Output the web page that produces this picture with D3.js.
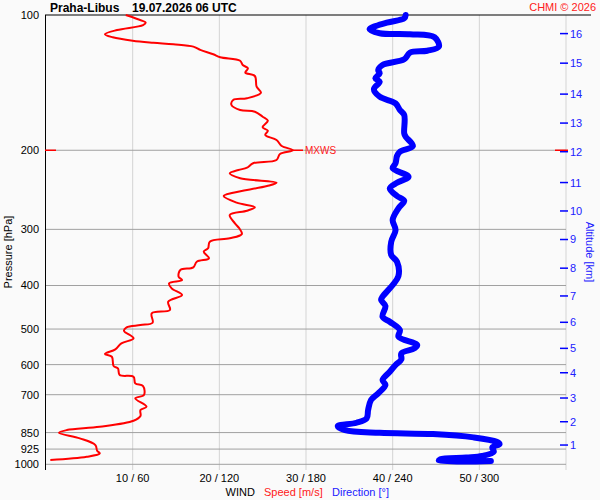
<!DOCTYPE html>
<html>
<head>
<meta charset="utf-8">
<script src="https://cdn.jsdelivr.net/npm/d3@7"></script>
<style>
    body { margin: 0; background: #fafafa; }
    svg { display: block; font-family: "Liberation Sans", Arial, sans-serif; }
</style>
</head>
<body>
<div id="chart"></div>
<script>
// Wind speed profile [hPa] / [m/s]
const speedPres = [100, 101.7, 104, 105.3, 108, 110.4, 112.1, 114.1, 115.3, 116.2, 117.6, 119.6, 122.3, 124.2,
    126.4, 129.2, 131.4, 134.4, 136.7, 144.4, 148.9, 153.2, 154.6, 158.6, 162.7, 164.2, 168.4, 171.9, 177.8,
    180.9, 184.9, 189.7, 195.7, 200, 203.8, 210.2, 213.8, 218.7, 221.3, 225.1, 230.9, 236.2, 240.3, 248.6,
    252.8, 261.6, 267.9, 272.6, 278.7, 290.8, 298.4, 307.2, 314.1, 319.6, 330.6, 336.4, 348, 354.1, 364.4,
    369.5, 382.4, 388.9, 395.5, 405.8, 420, 434.6, 453.5, 461.3, 484.1, 489.8, 495.6, 504.5, 524.4, 538,
    554.8, 568.3, 576.3, 604.3, 611.5, 632.8, 638.4, 660.4, 669.6, 701.2, 713.1, 744.5, 757.2, 780.8, 799.9,
    825, 839.1, 850.8, 875.6, 906.2, 933.1, 945.6, 962.2, 978.2];
const speedVals = [9.2, 10.3, 11.5, 11.2, 8.2, 6.8, 7.7, 10.0, 12.4, 14.7, 17.0, 17.8, 19.3, 20.1,
    22.4, 22.7, 23.3, 23.0, 24.1, 24.3, 24.8, 23.2, 21.6, 21.4, 22.4, 24.1, 25.0, 25.6, 25.0,
    25.6, 25.3, 26.6, 27.2, 28.5, 27.0, 26.6, 23.9, 23.2, 22.2, 21.2, 22.4, 26.6, 25.5, 21.6,
    20.5, 22.0, 24.1, 23.2, 21.2, 21.8, 22.3, 22.6, 21.2, 18.9, 18.7, 18.2, 18.8, 17.4, 17.0,
    15.5, 15.3, 15.7, 14.2, 14.5, 15.7, 14.1, 14.3, 12.2, 12.3, 10.9, 9.3, 9.0, 10.1, 8.7,
    8.0, 6.8, 7.6, 7.8, 8.3, 8.5, 10.1, 10.3, 11.2, 11.3, 10.3, 11.6, 10.9, 10.9, 10.1,
    6.2, 2.4, 1.5, 3.9, 5.7, 5.9, 6.2, 4.7, 0.5];

// Wind direction profile [hPa] / [deg]
const dirPres = [100, 101.7, 104, 107.6, 109.8, 110.4, 112.1, 117.6, 120.1, 121.3, 125.5, 129.2, 132.6, 134.8,
    138.3, 140.7, 146.3, 152, 157.3, 162.7, 167, 183.4, 186.6, 195.7, 201.5, 206, 213.8, 219.3, 229, 236.2,
    243.2, 252.8, 259, 269.3, 285.9, 301, 319.6, 342.1, 354.1, 381, 399, 423.6, 430.8, 444.3, 469.5, 481.6,
    502.7, 520, 542.7, 552, 566.3, 584.2, 601.2, 622.2, 649.3, 666.1, 695, 719.3, 757.2, 790.1, 808.2, 822,
    839.1, 850.8, 856.5, 871.1, 890.9, 901.6, 917, 937.9, 958.3, 966.2, 974.7, 981.7, 983.2];
const dirVals = [249, 248, 236, 224, 231, 252, 269, 272, 264, 252, 248, 233, 230, 231,
    228, 231, 227, 231, 242, 245, 248, 248, 249, 254, 245, 243, 242, 240, 251, 243,
    238, 243, 248, 244, 240, 242, 239, 239, 243, 244, 240, 233, 232, 235, 233, 238,
    245, 244, 257, 255, 246, 246, 242, 238, 233, 235, 230, 225, 223, 222, 215, 202,
    207, 231, 268, 296, 312, 314, 309, 310, 302, 291, 273, 272, 308];

const pressureTicks = [100, 200, 300, 400, 500, 600, 700, 850, 925, 1000];
const speedTicks = [10, 20, 30, 40, 50, 60];
const altKm = [1, 2, 3, 4, 5, 6, 7, 8, 9, 10, 11, 12, 13, 14, 15, 16];
const altPres = [906, 804, 712, 625.5, 552, 483, 422, 366, 316, 273, 236, 201.5, 174, 150, 128, 110];
const maxWindPres = 200;
const maxWindSpeed = 28.5;

const width = 600, height = 500;
const RED = "#ff0000", BLUE = "#0000ff", TXT_RED = "#ff2020", TXT_BLUE = "#2020ff";

const svg = d3.select("#chart").append("svg")
    .attr("width", width)
    .attr("height", height);

svg.append("rect").attr("width", width).attr("height", height).attr("fill", "#fafafa");

const y = d3.scaleLog().domain([100, 1000]).range([15, 464.3]);
const xSpeed = d3.scaleLinear().domain([0, 60]).range([46, 566]);
const xDir = d3.scaleLinear().domain([0, 360]).range([46, 566]);

// vertical grid
svg.selectAll(".vgrid").data(speedTicks).enter().append("line")
    .attr("x1", d => xSpeed(d)).attr("x2", d => xSpeed(d))
    .attr("y1", 15).attr("y2", 470)
    .attr("stroke", "#d4d4d4").attr("stroke-width", 1);

// horizontal grid
svg.selectAll(".hgrid").data(pressureTicks.slice(1)).enter().append("line")
    .attr("x1", 45).attr("x2", 566)
    .attr("y1", d => y(d)).attr("y2", d => y(d))
    .attr("stroke", "#a0a0a0").attr("stroke-width", 1);

// top line and left axis
svg.append("line").attr("x1", 45).attr("x2", 591).attr("y1", y(100)).attr("y2", y(100))
    .attr("stroke", "#000").attr("stroke-width", 1);
svg.append("line").attr("x1", 45.5).attr("x2", 45.5).attr("y1", 15).attr("y2", 470)
    .attr("stroke", "#000").attr("stroke-width", 1);

// pressure labels
svg.selectAll(".plab").data(pressureTicks).enter().append("text")
    .attr("x", 39).attr("y", d => y(d)).attr("dy", "0.36em")
    .attr("text-anchor", "end").attr("font-size", 11).attr("fill", "#000")
    .text(d => d);

svg.append("text")
    .attr("transform", "translate(12,252) rotate(-90)")
    .attr("text-anchor", "middle").attr("font-size", 11).attr("fill", "#000")
    .text("Pressure [hPa]");

// wind axis labels
svg.selectAll(".xlab").data(speedTicks.slice(0, 5)).enter().append("text")
    .attr("x", d => xSpeed(d)).attr("y", 482)
    .attr("text-anchor", "middle").attr("font-size", 11).attr("fill", "#000")
    .text(d => d + " / " + d * 6);

const legend = svg.append("text").attr("x", 225.5).attr("y", 495.5).attr("font-size", 11);
legend.append("tspan").attr("fill", "#000").text("WIND");
legend.append("tspan").attr("x", 264).attr("fill", TXT_RED).text("Speed [m/s]");
legend.append("tspan").attr("x", 332).attr("fill", TXT_BLUE).text("Direction [°]");

// altitude axis
svg.selectAll(".atick").data(altPres).enter().append("line")
    .attr("x1", 560).attr("x2", 568)
    .attr("y1", d => y(d)).attr("y2", d => y(d))
    .attr("stroke", BLUE).attr("stroke-width", 1.5);
svg.selectAll(".alab").data(altKm).enter().append("text")
    .attr("x", 570).attr("y", (d, i) => y(altPres[i])).attr("dy", "0.36em")
    .attr("font-size", 11).attr("fill", TXT_BLUE)
    .text(d => d);
svg.append("text")
    .attr("transform", "translate(586,252) rotate(90)")
    .attr("text-anchor", "middle").attr("font-size", 11).attr("fill", TXT_BLUE)
    .text("Altitude [km]");

// direction line
const dirData = dirPres.map((p, i) => [p, dirVals[i]]);
svg.append("path")
    .attr("d", d3.line().x(d => xDir(d[1])).y(d => y(d[0])).curve(d3.curveCatmullRom.alpha(0.5))(dirData))
    .attr("fill", "none").attr("stroke", BLUE).attr("stroke-width", 6)
    .attr("stroke-linejoin", "round").attr("stroke-linecap", "round");

// speed line
const speedData = speedPres.map((p, i) => [p, speedVals[i]]);
svg.append("path")
    .attr("d", d3.line().x(d => xSpeed(d[1])).y(d => y(d[0])).curve(d3.curveCatmullRom.alpha(0.5))(speedData))
    .attr("fill", "none").attr("stroke", RED).attr("stroke-width", 2)
    .attr("stroke-linejoin", "round");

// max wind marks
const yMax = y(maxWindPres);
svg.append("line").attr("x1", 45).attr("x2", 56).attr("y1", yMax).attr("y2", yMax)
    .attr("stroke", RED).attr("stroke-width", 1.5);
svg.append("line").attr("x1", 555).attr("x2", 568).attr("y1", yMax).attr("y2", yMax)
    .attr("stroke", RED).attr("stroke-width", 1.5);
svg.append("line").attr("x1", xSpeed(maxWindSpeed)).attr("x2", xSpeed(maxWindSpeed) + 10)
    .attr("y1", yMax).attr("y2", yMax)
    .attr("stroke", RED).attr("stroke-width", 1.5);
svg.append("text")
    .attr("x", xSpeed(maxWindSpeed) + 12).attr("y", yMax).attr("dy", "0.36em")
    .attr("font-size", 10).attr("fill", TXT_RED)
    .text("MXWS");

// titles
svg.append("text").attr("x", 50).attr("y", 11.5)
    .attr("font-size", 12).attr("font-weight", "bold").attr("fill", "#000")
    .text("Praha-Libus");
svg.append("text").attr("x", 132).attr("y", 11.5)
    .attr("font-size", 12).attr("font-weight", "bold").attr("fill", "#000")
    .text("19.07.2026 06 UTC");
svg.append("text").attr("x", 596).attr("y", 10.5)
    .attr("text-anchor", "end").attr("font-size", 11).attr("fill", TXT_RED)
    .text("CHMI © 2026");
</script>
</body>
</html>
